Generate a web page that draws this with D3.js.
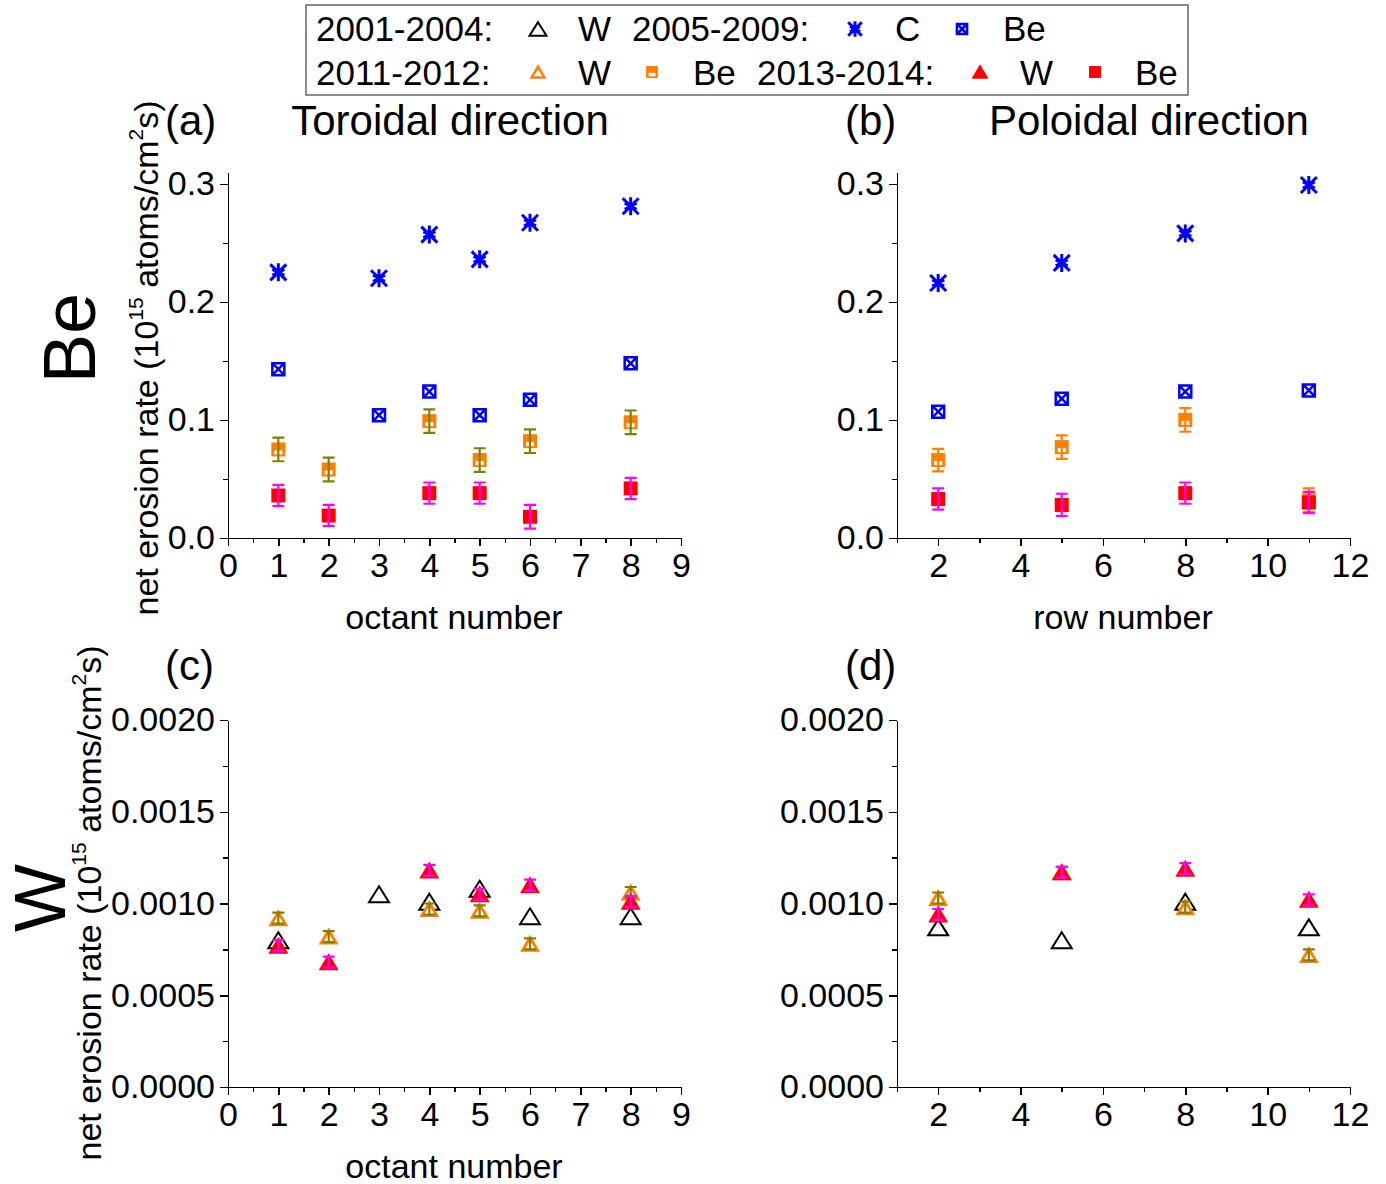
<!DOCTYPE html>
<html lang="en">
<head>
<meta charset="UTF-8">
<title>Net erosion rate</title>
<script src="https://d3js.org/d3.v7.min.js"></script>
<style>
    body { margin: 0; background: #fff; }
    svg text { font-family: "Liberation Sans", Arial, sans-serif; fill: #000; }
    .axis path, .axis line { stroke: #000; stroke-width: 1.5px; fill: none; shape-rendering: crispEdges; }
    .axis text { font-size: 34px; }
</style>
</head>
<body>
<svg width="1386" height="1184"></svg>
<script>
    // x positions
    const octants = [1, 2, 3, 4, 5, 6, 8];
    const rows = [2, 5, 8, 11];

    // Be, toroidal direction (panel a)
    const torC0509  = [0.225, null, 0.220, 0.257, 0.236, 0.267, 0.281];
    const torBe0509 = [0.143, null, 0.104, 0.124, 0.104, 0.117, 0.148];
    const torBe1112 = [0.075, 0.058, null, 0.099, 0.066, 0.082, 0.098];
    const torBe1112Err = [0.010, 0.010, null, 0.010, 0.010, 0.010, 0.010];
    const torBe1314 = [0.036, 0.019, null, 0.038, 0.038, 0.018, 0.042];
    const torBe1314Err = [0.009, 0.009, null, 0.009, 0.009, 0.010, 0.009];

    // Be, poloidal direction (panel b)
    const polC0509  = [0.216, 0.233, 0.258, 0.299];
    const polBe0509 = [0.107, 0.118, 0.124, 0.125];
    const polBe1112 = [0.066, 0.077, 0.100, 0.032];
    const polBe1112Err = [0.0095, 0.010, 0.010, 0.010];
    const polBe1314 = [0.033, 0.028, 0.038, 0.030];
    const polBe1314Err = [0.009, 0.0095, 0.009, 0.009];

    // W, toroidal direction (panel c)
    const torW0104 = [0.00080, null, 0.00105, 0.00101, 0.00108, 0.00093, 0.00093];
    const torW1112 = [0.00092, 0.00082, null, 0.00097, 0.00096, 0.00078, 0.00106];
    const torW1112Err = [0.00003, 0.00003, null, 0.00003, 0.00003, 0.00003, 0.00003];
    const torW1314 = [0.00077, 0.00068, null, 0.00118, 0.00105, 0.00110, 0.00101];
    const torW1314Err = [0.00003, 0.00003, null, 0.00003, 0.00003, 0.00003, 0.00003];

    // W, poloidal direction (panel d)
    const polW0104 = [0.00087, 0.00080, 0.00101, 0.00087];
    const polW1112 = [0.00103, 0.00117, 0.00098, 0.00072];
    const polW1112Err = [0.00003, 0.00003, 0.00003, 0.00003];
    const polW1314 = [0.00094, 0.00117, 0.00119, 0.00102];
    const polW1314Err = [0.00003, 0.00003, 0.00003, 0.00003];

    // tick values
    const octTicks = [0, 1, 2, 3, 4, 5, 6, 7, 8, 9];
    const octMinor = [0.5, 1.5, 2.5, 3.5, 4.5, 5.5, 6.5, 7.5, 8.5];
    const rowTicks = [2, 4, 6, 8, 10, 12];
    const rowMinor = [1, 3, 5, 7, 9, 11];
    const beTicks = [0, 0.1, 0.2, 0.3];
    const beMinor = [0.05, 0.15, 0.25];
    const wTicks = [0, 0.0005, 0.0010, 0.0015, 0.0020];
    const wMinor = [0.00025, 0.00075, 0.00125, 0.00175];

    const BLUE = "#0000ff", ORANGE = "#ff8000", OLIVE = "#808000", RED = "#ff0000", MAGENTA = "#ff00ff";

    const svg = d3.select("svg");

    // marker drawing functions, g is a group already translated to the point
    const markers = {
        triOpen: (g, s) => g.append("path")
            .attr("d", `M0,${-8 * s}L${10 * s},${8 * s}L${-10 * s},${8 * s}Z`)
            .attr("fill", "none").attr("stroke", "#000").attr("stroke-width", 2),
        triOrange: (g, s) => {
            g.append("path").attr("d", `M0,${-9 * s}L${10 * s},${8 * s}L${-10 * s},${8 * s}Z`)
                .attr("fill", ORANGE);
            g.append("path").attr("d", `M0,${-3 * s}L${5 * s},${5 * s}L${-5 * s},${5 * s}Z`)
                .attr("fill", "#fff");
        },
        triRed: (g, s) => g.append("path")
            .attr("d", `M0,${-9 * s}L${10 * s},${8 * s}L${-10 * s},${8 * s}Z`)
            .attr("fill", RED),
        star: (g, s) => g.append("path")
            .attr("d", `M${-8 * s},${-8 * s}L${8 * s},${8 * s}M${-8 * s},${8 * s}L${8 * s},${-8 * s}` +
                `M0,${-9 * s}L0,${9 * s}M${-6 * s},${-3 * s}L${6 * s},${3 * s}M${-6 * s},${3 * s}L${6 * s},${-3 * s}`)
            .attr("fill", "none").attr("stroke", BLUE).attr("stroke-width", 3),
        boxX: (g, s) => g.append("path")
            .attr("d", `M${-6 * s},${-6 * s}h${12 * s}v${12 * s}h${-12 * s}Z` +
                `M${-5 * s},${-5 * s}L${5 * s},${5 * s}M${-5 * s},${5 * s}L${5 * s},${-5 * s}`)
            .attr("fill", "none").attr("stroke", BLUE).attr("stroke-width", 2.5),
        sqOrange: (g, s) => {
            g.append("rect").attr("x", -7 * s).attr("y", -7 * s).attr("width", 14 * s).attr("height", 14 * s)
                .attr("fill", ORANGE);
            g.append("rect").attr("x", -4 * s).attr("y", 1 * s).attr("width", 8 * s).attr("height", 4 * s)
                .attr("fill", "#fff");
        },
        sqRed: (g, s) => g.append("rect").attr("x", -7 * s).attr("y", -7 * s)
            .attr("width", 14 * s).attr("height", 14 * s).attr("fill", RED)
    };

    function drawPanel(p) {
        const x = d3.scaleLinear().domain(p.xDomain).range([p.left, p.right]);
        const y = d3.scaleLinear().domain(p.yDomain).range([p.bottom, p.top]);
        const g = svg.append("g");

        // minor ticks
        g.append("g").attr("class", "axis").attr("transform", `translate(0,${p.bottom})`)
            .call(d3.axisBottom(x).tickValues(p.xMinor).tickSize(5).tickFormat(""))
            .call(a => a.select(".domain").remove());
        g.append("g").attr("class", "axis").attr("transform", `translate(${p.left},0)`)
            .call(d3.axisLeft(y).tickValues(p.yMinor).tickSize(5).tickFormat(""))
            .call(a => a.select(".domain").remove());

        // major axes
        g.append("g").attr("class", "axis").attr("transform", `translate(0,${p.bottom})`)
            .call(d3.axisBottom(x).tickValues(p.xTicks).tickSize(8).tickSizeOuter(0).tickPadding(7)
                .tickFormat(d3.format("d")));
        g.append("g").attr("class", "axis").attr("transform", `translate(${p.left},0)`)
            .call(d3.axisLeft(y).tickValues(p.yTicks).tickSize(8).tickSizeOuter(0).tickPadding(5)
                .tickFormat(d3.format(p.yFmt)));

        // data
        p.series.forEach(s => {
            const pts = p.xs.map((xv, i) => ({x: xv, y: s.values[i], e: s.err ? s.err[i] : null}))
                .filter(d => d.y !== null);
            const sg = g.append("g");
            pts.forEach(d => {
                const cx = x(d.x), cy = y(d.y);
                const mg = sg.append("g").attr("transform", `translate(${cx},${cy})`);
                markers[s.marker](mg, 1);
                if (d.e !== null && d.e !== undefined) {
                    const y1 = y(d.y + d.e) - cy, y2 = y(d.y - d.e) - cy;
                    mg.append("path")
                        .attr("d", `M0,${y1}V${y2}M-6,${y1}H6M-6,${y2}H6`)
                        .attr("fill", "none").attr("stroke", s.errColor).attr("stroke-width", 2.2);
                }
            });
        });
    }

    const beTop = 172, beBottom = 538, wTop = 720, wBottom = 1087;
    const leftL = 228, leftR = 681, rightL = 897, rightR = 1350;

    drawPanel({
        left: leftL, right: leftR, top: beTop, bottom: beBottom,
        xDomain: [0, 9], yDomain: [0, 0.31], xTicks: octTicks, xMinor: octMinor,
        yTicks: beTicks, yMinor: beMinor, yFmt: ".1f", xs: octants,
        series: [
            {values: torC0509, marker: "star"},
            {values: torBe0509, marker: "boxX"},
            {values: torBe1112, err: torBe1112Err, marker: "sqOrange", errColor: OLIVE},
            {values: torBe1314, err: torBe1314Err, marker: "sqRed", errColor: MAGENTA}
        ]
    });
    drawPanel({
        left: rightL, right: rightR, top: beTop, bottom: beBottom,
        xDomain: [1, 12], yDomain: [0, 0.31], xTicks: rowTicks, xMinor: rowMinor,
        yTicks: beTicks, yMinor: beMinor, yFmt: ".1f", xs: rows,
        series: [
            {values: polC0509, marker: "star"},
            {values: polBe0509, marker: "boxX"},
            {values: polBe1112, err: polBe1112Err, marker: "sqOrange", errColor: ORANGE},
            {values: polBe1314, err: polBe1314Err, marker: "sqRed", errColor: MAGENTA}
        ]
    });
    drawPanel({
        left: leftL, right: leftR, top: wTop, bottom: wBottom,
        xDomain: [0, 9], yDomain: [0, 0.002], xTicks: octTicks, xMinor: octMinor,
        yTicks: wTicks, yMinor: wMinor, yFmt: ".4f", xs: octants,
        series: [
            {values: torW0104, marker: "triOpen"},
            {values: torW1112, err: torW1112Err, marker: "triOrange", errColor: OLIVE},
            {values: torW1314, err: torW1314Err, marker: "triRed", errColor: MAGENTA}
        ]
    });
    drawPanel({
        left: rightL, right: rightR, top: wTop, bottom: wBottom,
        xDomain: [1, 12], yDomain: [0, 0.002], xTicks: rowTicks, xMinor: rowMinor,
        yTicks: wTicks, yMinor: wMinor, yFmt: ".4f", xs: rows,
        series: [
            {values: polW0104, marker: "triOpen"},
            {values: polW1112, err: polW1112Err, marker: "triOrange", errColor: OLIVE},
            {values: polW1314, err: polW1314Err, marker: "triRed", errColor: MAGENTA}
        ]
    });

    // panel titles and axis titles
    function label(txt, x, y, size, anchor) {
        return svg.append("text").attr("x", x).attr("y", y).attr("font-size", size)
            .attr("text-anchor", anchor || "start").text(txt);
    }
    label("(a)", 165, 135, 42);
    label("Toroidal direction", 450, 135, 42, "middle");
    label("(b)", 845, 135, 42);
    label("Poloidal direction", 1149, 135, 42, "middle");
    label("(c)", 165, 680, 42);
    label("(d)", 845, 680, 42);
    label("octant number", 454, 629, 34, "middle");
    label("row number", 1123, 629, 34, "middle");
    label("octant number", 454, 1178, 34, "middle");

    function yTitle(cx, cy) {
        const t = svg.append("text").attr("transform", `translate(${cx},${cy}) rotate(-90)`)
            .attr("text-anchor", "middle").attr("font-size", 34);
        t.append("tspan").text("net erosion rate (10");
        t.append("tspan").attr("font-size", 21).attr("dy", -15).text("15");
        t.append("tspan").attr("dy", 15).text(" atoms/cm");
        t.append("tspan").attr("font-size", 21).attr("dy", -15).text("2");
        t.append("tspan").attr("dy", 15).text("s)");
    }
    yTitle(158, 358);
    yTitle(101, 903);

    svg.append("text").attr("transform", "translate(95,338) rotate(-90)")
        .attr("text-anchor", "middle").attr("font-size", 74).text("Be");
    svg.append("text").attr("transform", "translate(65,898) rotate(-90)")
        .attr("text-anchor", "middle").attr("font-size", 72).text("W");

    // legend
    const leg = svg.append("g");
    leg.append("rect").attr("x", 306).attr("y", 5).attr("width", 882).attr("height", 90)
        .attr("fill", "#fff").attr("stroke", "#666").attr("stroke-width", 1.5);
    const legText = [
        ["2001-2004:", 316, 41], ["W", 578, 41], ["2005-2009:", 632, 41], ["C", 895, 41], ["Be", 1003, 41],
        ["2011-2012:", 316, 85], ["W", 578, 85], ["Be", 693, 85], ["2013-2014:", 757, 85], ["W", 1020, 85], ["Be", 1135, 85]
    ];
    legText.forEach(d => leg.append("text").attr("x", d[1]).attr("y", d[2]).attr("font-size", 35).text(d[0]));
    const legMarks = [
        ["triOpen", 538, 29], ["star", 855, 29], ["boxX", 962, 29],
        ["triOrange", 538, 72], ["sqOrange", 652, 72], ["triRed", 980, 72], ["sqRed", 1095, 72]
    ];
    legMarks.forEach(d => markers[d[0]](leg.append("g").attr("transform", `translate(${d[1]},${d[2]})`), 0.85));
</script>
</body>
</html>
